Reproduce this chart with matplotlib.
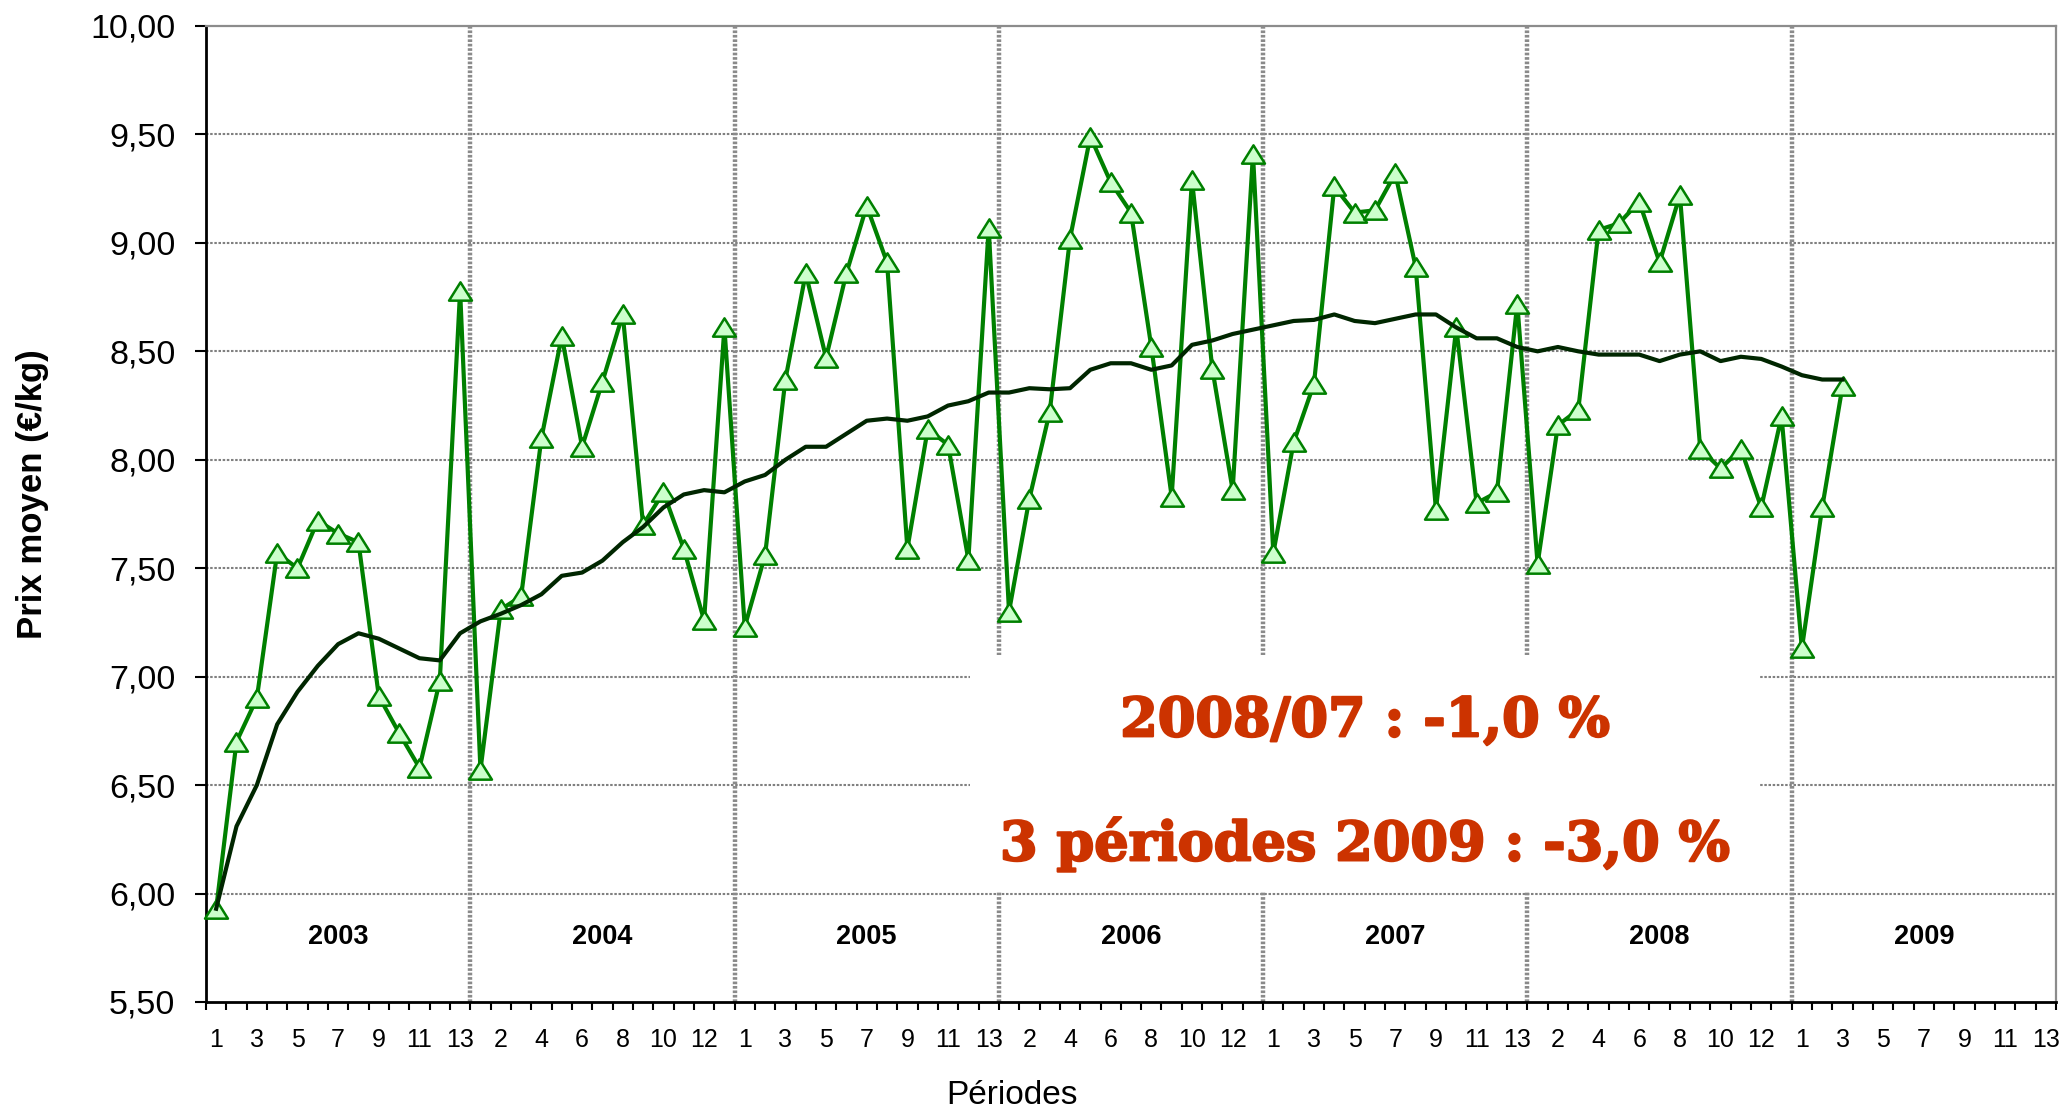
import numpy as np
import matplotlib
matplotlib.use("Agg")
import matplotlib.pyplot as plt
import matplotlib.patheffects as pe
from matplotlib.patches import Rectangle
from matplotlib.path import Path

# ---------------- data ----------------
years = ["2003", "2004", "2005", "2006", "2007", "2008", "2009"]
periods = list(range(1, 14))

prix_2003 = [5.93, 6.70, 6.90, 7.57, 7.50, 7.72, 7.66, 7.62, 6.91, 6.74, 6.58, 6.98, 8.78]
prix_2004 = [6.57, 7.31, 7.37, 8.10, 8.57, 8.06, 8.36, 8.67, 7.70, 7.85, 7.59, 7.26, 8.61]
prix_2005 = [7.23, 7.56, 8.37, 8.86, 8.47, 8.86, 9.17, 8.91, 7.59, 8.14, 8.07, 7.54, 9.07]
prix_2006 = [7.30, 7.82, 8.22, 9.02, 9.49, 9.28, 9.14, 8.52, 7.83, 9.29, 8.42, 7.86, 9.41]
prix_2007 = [7.57, 8.08, 8.35, 9.26, 9.14, 9.15, 9.32, 8.89, 7.77, 8.61, 7.80, 7.85, 8.72]
prix_2008 = [7.52, 8.16, 8.23, 9.06, 9.09, 9.19, 8.91, 9.22, 8.05, 7.96, 8.05, 7.78, 8.20]
prix_2009 = [7.13, 7.78, 8.34]

moy_2003 = [5.93, 6.31, 6.50, 6.78, 6.93, 7.05, 7.15, 7.20, 7.175, 7.13, 7.085, 7.075, 7.20]
moy_2004 = [7.255, 7.29, 7.33, 7.38, 7.465, 7.48, 7.535, 7.62, 7.69, 7.78, 7.84, 7.86, 7.85]
moy_2005 = [7.90, 7.93, 8.00, 8.06, 8.06, 8.12, 8.18, 8.19, 8.18, 8.20, 8.25, 8.27, 8.31]
moy_2006 = [8.31, 8.33, 8.325, 8.33, 8.415, 8.445, 8.445, 8.415, 8.435, 8.53, 8.55, 8.58, 8.60]
moy_2007 = [8.62, 8.64, 8.645, 8.67, 8.64, 8.63, 8.65, 8.67, 8.67, 8.61, 8.56, 8.56, 8.52]
moy_2008 = [8.50, 8.52, 8.50, 8.485, 8.485, 8.485, 8.455, 8.485, 8.50, 8.455, 8.475, 8.465, 8.43]
moy_2009 = [8.39, 8.37, 8.37]

annotation_1 = "2008/07 : -1,0 %"
annotation_2 = "3 périodes 2009 : -3,0 %"

y_ticks = [5.5, 6.0, 6.5, 7.0, 7.5, 8.0, 8.5, 9.0, 9.5, 10.0]

prix = prix_2003 + prix_2004 + prix_2005 + prix_2006 + prix_2007 + prix_2008 + prix_2009
moy = moy_2003 + moy_2004 + moy_2005 + moy_2006 + moy_2007 + moy_2008 + moy_2009

n_cat = len(years) * len(periods)
cat_labels = [str(p) for y in years for p in periods]
x = np.arange(len(prix))

# ---------------- figure ----------------
plt.rcParams['font.family'] = ['Liberation Sans', 'DejaVu Sans']
fig = plt.figure(figsize=(20.6, 11.14), dpi=100)
ax = fig.add_axes([206/2060, 1 - 1002/1114, 1850/2060, 976/1114])

ax.set_xlim(-0.5, n_cat - 0.5)
ax.set_ylim(5.5, 10.0)

# horizontal gridlines
for v in y_ticks[1:-1]:
    ax.axhline(v, color='#808080', lw=1.5, ls=(0, (1.2, 0.8)), zorder=1)

# year separators
for k in range(1, len(years)):
    ax.axvline(13 * k - 0.5, color='#8a8a8a', lw=3.2, ls=(0, (0.6, 0.4)), zorder=1)

# white annotation box
box_x0, box_x1 = 37.06, 75.9
box_y0, box_y1 = 6.008, 7.10
ax.add_patch(Rectangle((box_x0, box_y0), box_x1 - box_x0, box_y1 - box_y0,
                       facecolor='white', edgecolor='none', zorder=2))

# triangle marker (slightly wider than tall)
tri = Path([(0, 0.8), (-1, -0.8), (1, -0.8), (0, 0.8)],
           [Path.MOVETO, Path.LINETO, Path.LINETO, Path.CLOSEPOLY])

ax.plot(x, prix, color='#008000', lw=3.0, marker=tri, ms=16.5,
        markerfacecolor='#CCFFCC', markeredgecolor='#008000', markeredgewidth=1.8,
        zorder=4, clip_on=False)
ax.plot(x, moy, color='#002600', lw=3.0, zorder=5)

# year labels
for k, yr in enumerate(years):
    ax.text(13 * k + 6, 5.80, yr, ha='center', va='center', fontsize=19.5,
            fontweight='bold', color='black', zorder=6)

# ticks
ax.set_yticks(y_ticks)
ax.set_yticklabels([f"{v:.2f}".replace('.', ',') for v in y_ticks], fontsize=24.5)
ax.tick_params(axis='y', length=8, width=1.5, pad=14, direction='out')

ax.set_xticks(np.arange(0, n_cat, 2))
ax.set_xticklabels(cat_labels[0::2], fontsize=18)
ax.tick_params(axis='x', which='major', length=0, pad=19)
ax.set_xticks(np.arange(-0.5, n_cat, 1), minor=True)
ax.tick_params(axis='x', which='minor', length=6, width=1.5, direction='out')

for s in ['left', 'bottom']:
    ax.spines[s].set_color('black')
    ax.spines[s].set_linewidth(2)
for s in ['top', 'right']:
    ax.spines[s].set_color('#8c8c8c')
    ax.spines[s].set_linewidth(1.6)

# axis titles
fig.text(33/2060, 1 - 494/1114, "Prix moyen (€/kg)", rotation=90, ha='center',
         va='center', fontsize=25, fontweight='bold')
fig.text(1012/2060, 1 - 1096/1114, "Périodes", ha='center', va='center', fontsize=24)

# annotation text
cx = (box_x0 + box_x1) / 2
heavy = [pe.withStroke(linewidth=1.6, foreground='#CC3300')]
t1 = ax.text(cx, 6.725, annotation_1, ha='center', va='baseline', fontsize=48,
             fontweight='bold', family='DejaVu Serif', color='#CC3300', zorder=7,
             path_effects=heavy)
t2 = ax.text(cx, 6.153, annotation_2, ha='center', va='baseline', fontsize=48,
             fontweight='bold', family='DejaVu Serif', color='#CC3300', zorder=7,
             path_effects=heavy)
fig.canvas.draw()
w2 = t2.get_window_extent().width
fs = 48 * 730 / w2
t1.set_fontsize(fs)
t2.set_fontsize(fs)

fig.savefig("out.png", dpi=100, facecolor='white')
